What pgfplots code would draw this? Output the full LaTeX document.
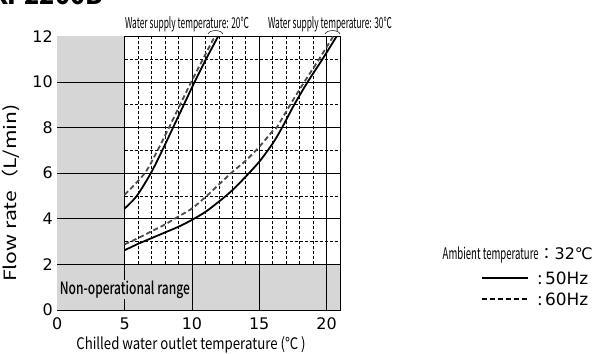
\documentclass[border=0pt]{standalone}
\usepackage{pgfplots}
\pgfplotsset{compat=1.18}
\usepackage{fontspec}
\usepackage{graphicx}
\setmainfont{Noto Sans CJK JP}
\newfontfamily\medfont{Noto Sans CJK JP}[UprightFont=* Medium]
\newfontfamily\numfont{DejaVu Sans}
\definecolor{ngray}{RGB}{214,214,214}
\definecolor{dgray}{RGB}{75,75,75}
\begin{document}
\begin{tikzpicture}
\useasboundingbox (-57.3bp,-44bp) rectangle (539.7bp,310bp);
\begin{axis}[
  at={(0,0)}, anchor=south west,
  scale only axis, width=282.7bp, height=273.7bp,
  xmin=0, xmax=21, ymin=0, ymax=12,
  xtick={0,5,10,15,20}, ytick={0,2,4,6,8,10,12},
  major tick length=0pt,
  tick label style={font=\numfont\fontsize{16}{16}\selectfont},
  /pgf/number format/assume math mode=true,
  xticklabel style={yshift=-4bp},
  yticklabel style={xshift=-1bp},
  axis line style={line width=1bp},
  clip=false,
  xlabel={\scalebox{0.83}[1]{\fontsize{16}{16}\selectfont Chilled water outlet temperature (℃ )}},
  xlabel style={at={(axis description cs:0.473,-0.128)}, anchor=center},
  ylabel={\scalebox{1.25}[1]{\fontsize{17}{18}\selectfont Flow rate（L/min)}},
  ylabel style={at={(axis description cs:-0.165,0.427)}, anchor=center},
]
% non-operational grey regions
\fill[ngray] (axis cs:0,0) rectangle (axis cs:5,12);
\fill[ngray] (axis cs:5,0) rectangle (axis cs:21,2);
% minor dashed grid (operational area only)
\pgfplotsinvokeforeach{6,7,8,9,11,12,13,14,16,17,18,19}{
  \draw[black, line width=0.6bp, dash pattern=on 3bp off 2bp] (axis cs:#1,2) -- (axis cs:#1,12);
}
\pgfplotsinvokeforeach{3,5,7,9,11}{
  \draw[black, line width=0.6bp, dash pattern=on 3bp off 2bp] (axis cs:5,#1) -- (axis cs:21,#1);
}
% major solid grid
\pgfplotsinvokeforeach{5,10,15,20}{
  \draw[black, line width=0.8bp] (axis cs:#1,0) -- (axis cs:#1,12);
}
\pgfplotsinvokeforeach{2,4,6,8,10}{
  \draw[black, line width=0.8bp] (axis cs:0,#1) -- (axis cs:21,#1);
}
% Water supply 20C
\addplot[black, line width=1.8bp, smooth] coordinates {
 (5,4.45) (5.9,5.0) (6.95,6.0) (7.8,7.0) (8.6,8.0) (9.4,9) (10.2,10) (11.05,11) (11.95,12)};
\addplot[dgray, line width=1.8bp, smooth, dash pattern=on 5bp off 3bp] coordinates {
 (5,5.05) (6.5,6.0) (7.45,7.0) (8.3,8) (9.12,9) (9.95,10) (10.82,11) (11.7,12)};
% Water supply 30C
\addplot[black, line width=1.8bp, smooth] coordinates {
 (5,2.62) (6,2.9) (7,3.15) (8,3.4) (9,3.65) (10,3.95) (11,4.3) (12,4.75) (13,5.25) (14,5.85) (15,6.5) (16,7.3) (16.7,8) (17.6,9) (18.6,10) (19.7,11) (20.75,12)};
\addplot[dgray, line width=1.8bp, smooth, dash pattern=on 5bp off 3bp] coordinates {
 (5,2.88) (6,3.15) (7,3.45) (8,3.75) (9,4.1) (10,4.45) (11,4.95) (12,5.5) (13,6.05) (14,6.55) (15,7.15) (16,7.85) (16.3,8) (17.3,9) (18.35,10) (19.45,11) (20.5,12)};
% small arcs above the curve ends
\draw[black, line width=0.5bp] (axis cs:11.2,12.1) .. controls (axis cs:11.3,12.3) and (axis cs:12.2,12.3) .. (axis cs:12.3,12.1);
\draw[black, line width=0.5bp] (axis cs:19.9,12.1) .. controls (axis cs:20.0,12.3) and (axis cs:20.9,12.3) .. (axis cs:21.0,12.1);
% non-operational label
\node[fill=ngray, inner sep=1bp, anchor=west] at (axis cs:0.1,0.9) {\scalebox{0.71}[1]{\fontsize{17}{17}\selectfont\medfont Non-operational range}};
\end{axis}
% header labels
\node[anchor=center] at (129.7bp,286bp) {\scalebox{0.56}[1]{\fontsize{15}{15}\selectfont Water supply temperature: 20℃}};
\node[anchor=center] at (272.7bp,286bp) {\scalebox{0.56}[1]{\fontsize{15}{15}\selectfont Water supply temperature: 30℃}};
% title (clipped by the page edge, as in the reference)
\node[anchor=base east, inner sep=0pt] at (45.7bp,305bp) {\fontsize{25}{25}\selectfont\bfseries KP2200B};
% legend
\node[anchor=east, inner sep=0pt] at (535.7bp,55bp) {\scalebox{0.6}[1]{\fontsize{16}{16}\selectfont Ambient temperature}\fontsize{16}{16}\selectfont ：{\numfont 32℃}};
\draw[black, line width=1.8bp] (424.4bp,32bp) -- (470.7bp,32bp);
\node[anchor=west, inner sep=0pt] at (480bp,32bp) {\fontsize{17}{17}\selectfont :\,{\numfont 50Hz}};
\draw[black, line width=1.8bp, dash pattern=on 5bp off 3bp] (424.4bp,11bp) -- (470.7bp,11bp);
\node[anchor=west, inner sep=0pt] at (480bp,11bp) {\fontsize{17}{17}\selectfont :\,{\numfont 60Hz}};
\end{tikzpicture}
\end{document}
